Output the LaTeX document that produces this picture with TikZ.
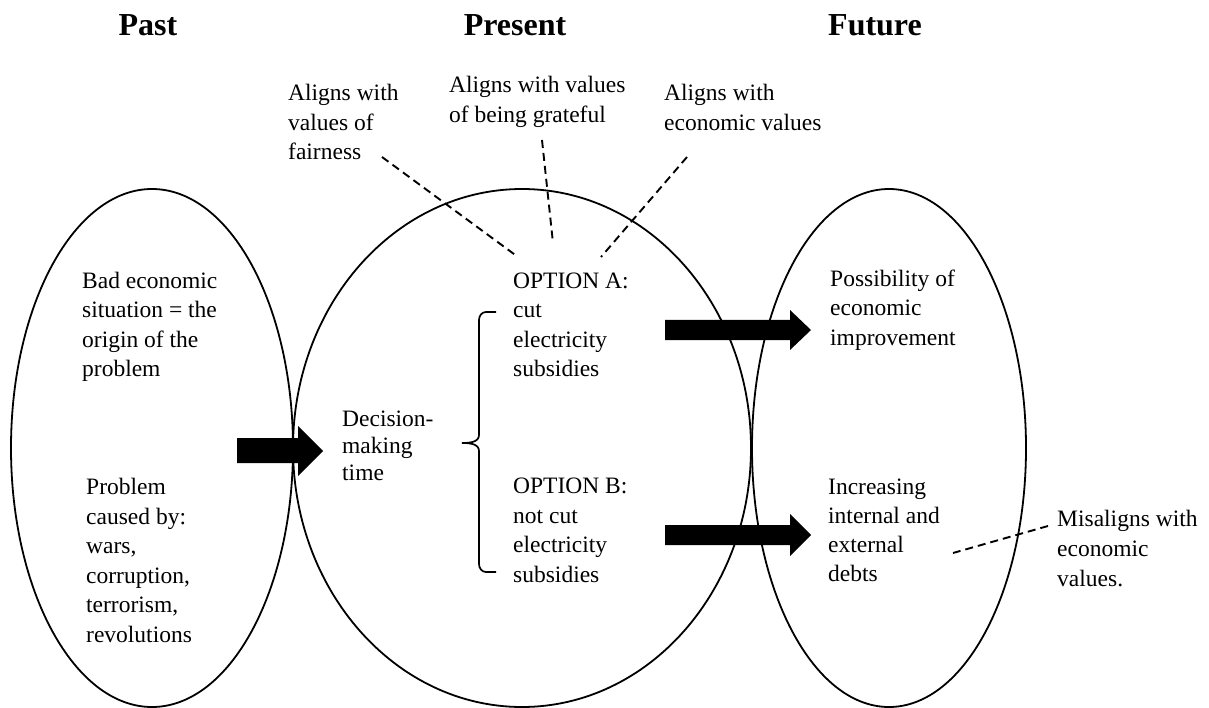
\documentclass[tikz,border=0pt]{standalone}
\usepackage{fontspec}
\setmainfont{Liberation Serif}
\begin{document}
\begin{tikzpicture}[x=1pt,y=-1pt,
  txt/.style={font=\fontsize{23.5}{29.5}\selectfont, align=left, inner sep=0pt, anchor=base west},
  head/.style={font=\fontsize{32}{38}\selectfont\bfseries, inner sep=0pt, anchor=base},
  ring/.style={draw=black, line width=1.8pt},
  dashline/.style={draw=black, line width=1.9pt, dash pattern=on 8pt off 5pt},
  bracestyle/.style={draw=black, line width=1.7pt},
  blockarrow/.style={fill=black}]
\useasboundingbox (0,0) rectangle (1209,708);
\fill[white] (0,0) rectangle (1209,708);

% ellipses
\draw[ring] (152,448) ellipse [x radius=141pt, y radius=259pt];
\draw[ring] (522,448) ellipse [x radius=229pt, y radius=259pt];
\draw[ring] (889,448) ellipse [x radius=137pt, y radius=259pt];

% headings
\node[head] (past) at (148,36) {Past};
\node[head] (present) at (515,36) {Present};
\node[head] (future) at (875,36) {Future};

% value labels (anchored at the baseline of the last line)
\node[txt] (fair) at (288,160) {Aligns with\\values of\\fairness};
\node[txt] (grate) at (449,122.5) {Aligns with values\\of being grateful};
\node[txt] (econ) at (664,130.5) {Aligns with\\economic values};

% past texts
\node[txt] (bad) at (82,376.5) {Bad economic\\situation = the\\origin of the\\problem};
\node[txt] (prob) at (86,642) {Problem\\caused by:\\wars,\\corruption,\\terrorism,\\revolutions};

% present texts
\node[txt, font=\fontsize{23.5}{27}\selectfont] (dec) at (342,480) {Decision-\\making\\time};
\node[txt] (optA) at (513,376.5) {OPTION A:\\cut\\electricity\\subsidies};
\node[txt] (optB) at (513,582) {OPTION B:\\not cut\\electricity\\subsidies};

% future texts
\node[txt] (poss) at (830,345) {Possibility of\\economic\\improvement};
\node[txt, font=\fontsize{23.5}{28.7}\selectfont] (incr) at (828,581) {Increasing\\internal and\\external\\debts};
\node[txt, font=\fontsize{23.5}{30}\selectfont] (mis) at (1057,586) {Misaligns with\\economic\\values.};

% brace
\draw[bracestyle] (496,312) -- (486,312) to[out=180,in=90] (479,320)
  -- (479,435) to[out=-90,in=0] (462,443) to[out=0,in=90] (479,451)
  -- (479,564) to[out=-90,in=180] (486,572) -- (496,572);

% block arrows
\fill[blockarrow] (237,438) -- (298,438) -- (298,426) -- (323,451) -- (298,476) -- (298,463) -- (237,463) -- cycle;
\fill[blockarrow] (665,320) -- (790,320) -- (790,310) -- (811,330) -- (790,350) -- (790,340) -- (665,340) -- cycle;
\fill[blockarrow] (665,525) -- (790,525) -- (790,514) -- (811,535) -- (790,556) -- (790,545) -- (665,545) -- cycle;

% dashed connectors
\coordinate (fairS) at (382,157);
\coordinate (fairE) at (518,257);
\coordinate (grateS) at (542,140);
\coordinate (grateE) at (553,243);
\coordinate (econS) at (687,157);
\coordinate (econE) at (601,257);
\coordinate (misS) at (1048,526);
\coordinate (misE) at (953,553);
\draw[dashline] (fairS) -- (fairE);
\draw[dashline] (grateS) -- (grateE);
\draw[dashline] (econS) -- (econE);
\draw[dashline] (misS) -- (misE);
\end{tikzpicture}
\end{document}
